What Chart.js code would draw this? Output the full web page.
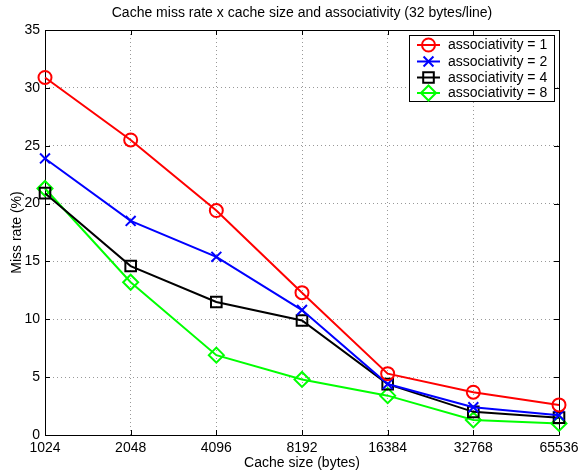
<!DOCTYPE html>
<html><head><meta charset="utf-8">
<script src="https://cdn.jsdelivr.net/npm/chart.js@4/dist/chart.umd.min.js"></script>
<style>html,body{margin:0;padding:0;background:#fff;}canvas{display:block;}</style>
</head><body>
<canvas id="c" width="579" height="472"></canvas>
<script>
const categories = ['1024','2048','4096','8192','16384','32768','65536'];
const assoc1 = [30.9, 25.5, 19.4, 12.3, 5.3, 3.7, 2.6];
const assoc2 = [23.9, 18.5, 15.4, 10.8, 4.4, 2.4, 1.7];
const assoc4 = [20.9, 14.6, 11.5, 9.9, 4.4, 2.0, 1.5];
const assoc8 = [21.3, 13.2, 6.9, 4.8, 3.4, 1.3, 1.0];
const yTicks = [0, 5, 10, 15, 20, 25, 30, 35];
const seriesLabels = ['associativity = 1','associativity = 2','associativity = 4','associativity = 8'];

const FONT = 'Liberation Sans, Arial, Helvetica, sans-serif';
const FS = 14;

function ds(label, data, color, style, radius, rotation) {
  return {label, data, borderColor: color, backgroundColor: 'rgba(0,0,0,0)',
    borderWidth: 2, pointStyle: style, pointRadius: radius, pointHoverRadius: radius,
    pointBorderColor: color, pointBackgroundColor: 'rgba(0,0,0,0)', pointBorderWidth: 2,
    pointRotation: rotation || 0, tension: 0, fill: false};
}

const boxPlugin = {
  id: 'box',
  beforeDatasetsDraw(chart) {
    const {ctx, chartArea: a, scales} = chart;
    ctx.save();
    ctx.strokeStyle = '#000'; ctx.lineWidth = 1;
    ctx.beginPath();
    ctx.rect(Math.round(a.left)+0.5, Math.round(a.top)+0.5, Math.round(a.right-a.left), Math.round(a.bottom-a.top));
    ctx.stroke();
    const L = 5;
    ctx.beginPath();
    scales.x.ticks.forEach((t,i) => {
      const x = Math.round(scales.x.getPixelForTick(i))+0.5;
      ctx.moveTo(x, a.bottom); ctx.lineTo(x, a.bottom - L);
      ctx.moveTo(x, a.top); ctx.lineTo(x, a.top + L);
    });
    scales.y.ticks.forEach((t,i) => {
      const y = Math.round(scales.y.getPixelForValue(t.value))+0.5;
      ctx.moveTo(a.left, y); ctx.lineTo(a.left + L, y);
      ctx.moveTo(a.right, y); ctx.lineTo(a.right - L, y);
    });
    ctx.stroke();
    ctx.restore();
  },
  afterDatasetsDraw(chart) {
    const {ctx} = chart;
    const bx = 409.5, by = 35.5, bw = 145, bh = 66;
    ctx.save();
    ctx.fillStyle = '#fff';
    ctx.fillRect(bx, by, bw, bh);
    ctx.strokeStyle = '#000'; ctx.lineWidth = 1;
    ctx.strokeRect(bx, by, bw, bh);
    ctx.font = FS + 'px ' + FONT;
    ctx.textBaseline = 'middle';
    ctx.textAlign = 'left';
    const rows = [45, 61.5, 77.5, 93];
    chart.data.datasets.forEach((d, i) => {
      const y = rows[i];
      ctx.strokeStyle = d.borderColor; ctx.lineWidth = 2;
      ctx.beginPath(); ctx.moveTo(417, y); ctx.lineTo(440, y); ctx.stroke();
      ctx.fillStyle = 'rgba(0,0,0,0)';
      Chart.helpers.drawPoint(ctx, {pointStyle: d.pointStyle, radius: d.pointRadius, rotation: d.pointRotation, borderWidth: 2}, 428.5, y);
      ctx.fillStyle = '#000';
      ctx.fillText(d.label, 448, y + 0.5);
    });
    ctx.restore();
  }
};

new Chart(document.getElementById('c'), {
  type: 'line',
  data: {
    labels: categories,
    datasets: [
      ds(seriesLabels[0], assoc1, '#ff0000', 'circle', 6.5),
      ds(seriesLabels[1], assoc2, '#0000ff', 'crossRot', 7),
      ds(seriesLabels[2], assoc4, '#000000', 'rect', 7.5),
      ds(seriesLabels[3], assoc8, '#00ff00', 'rectRot', 7.5)
    ]
  },
  options: {
    responsive: false,
    animation: false,
    events: [],
    layout: {padding: {left: 0, right: 20, top: 0, bottom: 0}},
    plugins: {
      legend: {display: false},
      tooltip: {enabled: false},
      title: {display: true, fullSize: false, text: 'Cache miss rate x cache size and associativity (32 bytes/line)',
        color: '#000', font: {family: FONT, size: FS, weight: 'normal'}, padding: {top: 5, bottom: 8.2}}
    },
    scales: {
      x: {
        type: 'category', offset: false,
        grid: {display: true, drawTicks: false, color: '#999', lineWidth: 1},
        border: {display: false, dash: [1, 3]},
        ticks: {color: '#000', font: {family: FONT, size: FS}, padding: 5, maxRotation: 0, autoSkip: false},
        title: {display: true, text: 'Cache size (bytes)', color: '#000', font: {family: FONT, size: FS}, padding: {top: 0, bottom: 0}},
        afterFit(s) { s.height = 37; s.paddingLeft = 0; s.paddingRight = 0; }
      },
      y: {
        type: 'linear', min: 0, max: 35,
        afterBuildTicks(s) { s.ticks = yTicks.map(v => ({value: v})); },
        grid: {display: true, drawTicks: false, color: '#999', lineWidth: 1},
        border: {display: false, dash: [1, 3]},
        ticks: {color: '#000', font: {family: FONT, size: FS}, padding: 5},
        title: {display: true, text: 'Miss rate (%)', color: '#000', font: {family: FONT, size: FS}, padding: {top: 8.6, bottom: 0}},
        afterFit(s) { s.width = 45; s.paddingTop = 0; s.paddingBottom = 0; }
      }
    }
  },
  plugins: [boxPlugin]
});
</script>
</body></html>
